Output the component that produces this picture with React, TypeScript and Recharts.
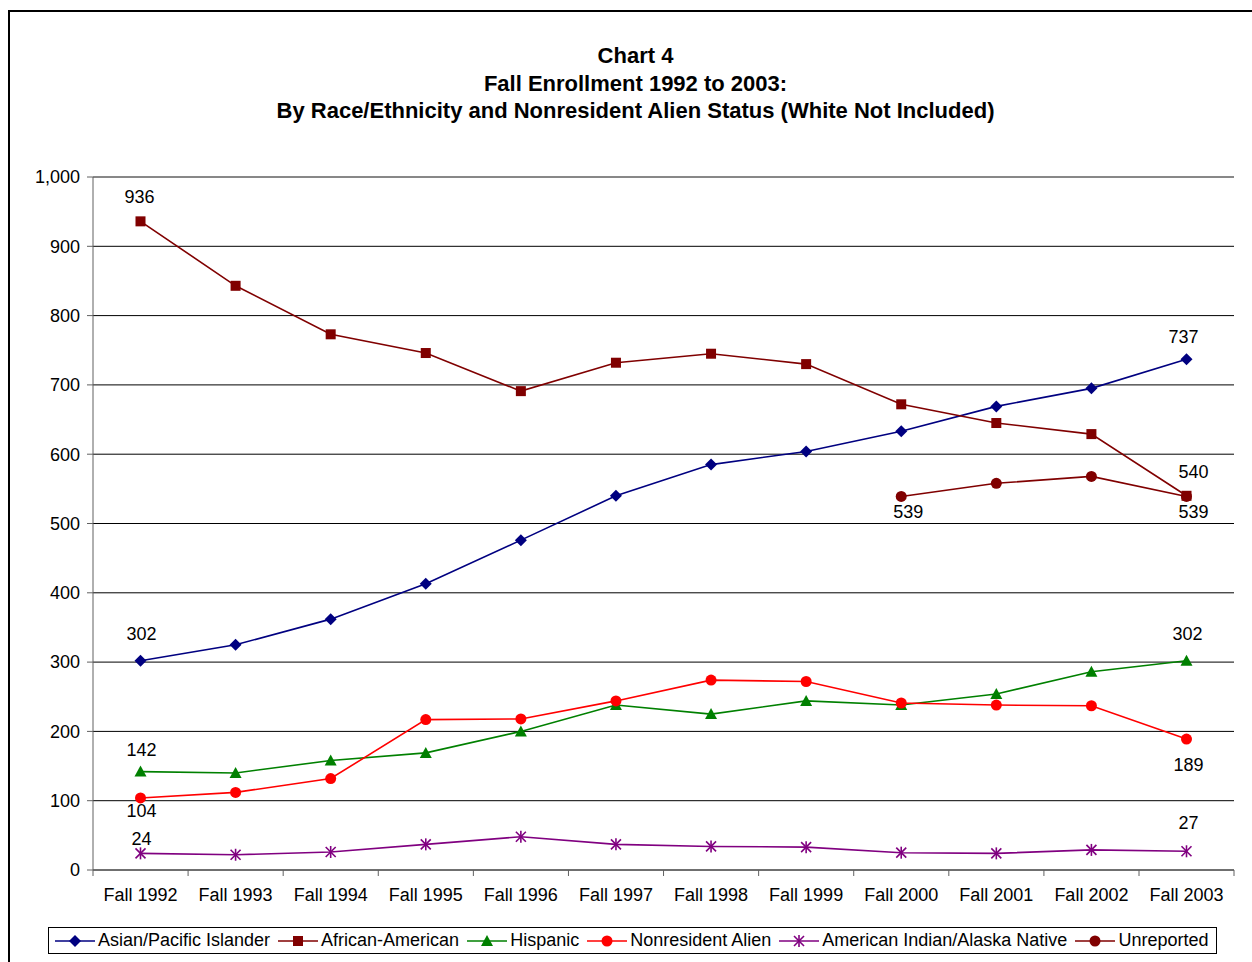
import React from "react"
import {
  LineChart,
  Line,
  XAxis,
  YAxis,
  CartesianGrid,
  LabelList,
  ReferenceLine,
} from "recharts"

// values (estimated where not labelled)
const YEARS = [
  "Fall 1992", "Fall 1993", "Fall 1994", "Fall 1995", "Fall 1996", "Fall 1997",
  "Fall 1998", "Fall 1999", "Fall 2000", "Fall 2001", "Fall 2002", "Fall 2003",
]
const ASIAN = [302, 325, 362, 413, 476, 540, 585, 604, 633, 669, 695, 737]
const AFRICAN = [936, 843, 773, 746, 691, 732, 745, 730, 672, 645, 629, 540]
const HISPANIC = [142, 140, 158, 169, 200, 238, 225, 244, 238, 254, 286, 302]
const NONRESIDENT = [104, 112, 132, 217, 218, 244, 274, 272, 241, 238, 237, 189]
const AM_INDIAN = [24, 22, 26, 37, 48, 37, 34, 33, 25, 24, 29, 27]
const UNREPORTED = [null, null, null, null, null, null, null, null, 539, 558, 568, 539]
const Y_TICKS = [0, 100, 200, 300, 400, 500, 600, 700, 800, 900, 1000]

const SERIES = [
  { key: "asian", name: "Asian/Pacific Islander", values: ASIAN, color: "#000080", marker: "diamond" },
  { key: "african", name: "African-American", values: AFRICAN, color: "#800000", marker: "square" },
  { key: "hispanic", name: "Hispanic", values: HISPANIC, color: "#008000", marker: "triangle" },
  { key: "nonres", name: "Nonresident Alien", values: NONRESIDENT, color: "#FF0000", marker: "circle" },
  { key: "amind", name: "American Indian/Alaska Native", values: AM_INDIAN, color: "#800080", marker: "star" },
  { key: "unrep", name: "Unreported", values: UNREPORTED, color: "#800000", marker: "circle" },
]
// unreported sits under the African-American square at Fall 2003
const DRAW_ORDER = ["unrep", "asian", "african", "hispanic", "nonres", "amind"]

// which points get a value label, and where the text sits relative to the point
const LABEL_OFFSETS: Record<string, Record<number, [number, number]>> = {
  asian: { 0: [1, -27], 11: [-3, -22] },
  african: { 0: [-1, -24], 11: [7, -24] },
  hispanic: { 0: [1, -22], 11: [1, -27] },
  nonres: { 0: [1, 13], 11: [2, 26] },
  amind: { 0: [1, -14], 11: [2, -28] },
  unrep: { 8: [7, 16], 11: [7, 16] },
}

const FONT = '"Liberation Sans", Arial, sans-serif'

const rows = YEARS.map((year, i) => {
  const r: any = { year }
  SERIES.forEach((s) => (r[s.key] = s.values[i]))
  return r
})

function Marker({ shape, color, cx, cy }: any) {
  if (cx == null || cy == null) return null
  switch (shape) {
    case "diamond":
      return <path d={`M${cx},${cy - 6}L${cx + 6},${cy}L${cx},${cy + 6}L${cx - 6},${cy}Z`} fill={color} />
    case "square":
      return <rect x={cx - 5} y={cy - 5} width={10} height={10} fill={color} />
    case "triangle":
      return <path d={`M${cx},${cy - 6}L${cx + 6},${cy + 5}L${cx - 6},${cy + 5}Z`} fill={color} />
    case "circle":
      return <circle cx={cx} cy={cy} r={5.5} fill={color} />
    case "star":
      return (
        <g stroke={color} strokeWidth={1.6}>
          <line x1={cx - 5} y1={cy - 5} x2={cx + 5} y2={cy + 5} />
          <line x1={cx - 5} y1={cy + 5} x2={cx + 5} y2={cy - 5} />
          <line x1={cx} y1={cy - 6} x2={cx} y2={cy + 6} />
        </g>
      )
  }
  return null
}

function XTick({ x, y, payload, index }: any) {
  const half = 47.5
  return (
    <g>
      <line x1={x - half} y1={y} x2={x - half} y2={y + 6} stroke="#606060" />
      {index === YEARS.length - 1 && (
        <line x1={x + half} y1={y} x2={x + half} y2={y + 6} stroke="#606060" />
      )}
      <text x={x} y={y + 25} textAnchor="middle" dominantBaseline="central" fontSize={18} fill="#000" fontFamily={FONT}>
        {payload.value}
      </text>
    </g>
  )
}

function makeLabel(key: string) {
  return (props: any) => {
    const { x, y, value, index } = props
    const off = LABEL_OFFSETS[key][index]
    if (!off || value == null) return null
    return (
      <text
        key={`${key}-${index}`}
        x={x + off[0]}
        y={y + off[1]}
        textAnchor="middle"
        dominantBaseline="central"
        fontSize={18}
        fill="#000"
        fontFamily={FONT}
      >
        {value}
      </text>
    )
  }
}

function LegendSwatch({ color, marker }: any) {
  return (
    <svg width={40} height={16} style={{ display: "block" }}>
      <line x1={0} y1={8} x2={40} y2={8} stroke={color} strokeWidth={1.6} />
      <Marker shape={marker} color={color} cx={20} cy={8} />
    </svg>
  )
}

export default function App() {
  const drawn = DRAW_ORDER.map((k) => SERIES.find((s) => s.key === k)!)
  return (
    <div style={{ position: "fixed", left: 0, top: 0, width: 1252, height: 962, overflow: "hidden", background: "#fff", fontFamily: FONT }}>
      <div style={{ position: "absolute", left: 8, top: 10, width: 1270, height: 980, border: "2px solid #000", boxSizing: "border-box" }} />
      <div style={{ position: "absolute", left: 9, top: 42, width: 1253, textAlign: "center", fontWeight: "bold", fontSize: 22, lineHeight: "27.5px", color: "#000" }}>
        <div>Chart 4</div>
        <div>Fall Enrollment 1992 to 2003:</div>
        <div>By Race/Ethnicity and Nonresident Alien Status (White Not Included)</div>
      </div>
      <div style={{ position: "absolute", left: 0, top: 0 }}>
        <LineChart width={1252} height={962} data={rows} margin={{ top: 177, right: 18, left: 0, bottom: 0 }}>
          <CartesianGrid vertical={false} stroke="#000" strokeOpacity={1} ticks={Y_TICKS} />
          <XAxis
            dataKey="year"
            height={92}
            padding={{ left: 47.5, right: 47.5 }}
            tickLine={false}
            tickSize={0}
            tickMargin={0}
            stroke="#606060"
            interval={0}
            tick={<XTick />}
          />
          <YAxis
            domain={[0, 1000]}
            ticks={Y_TICKS}
            width={93}
            tickSize={6}
            tickMargin={7}
            stroke="#606060"
            tick={{ fill: "#000", fontSize: 18, fontFamily: FONT }}
            tickFormatter={(v: number) => v.toLocaleString("en-US")}
            interval={0}
          />
          <YAxis yAxisId="right" orientation="right" domain={[0, 1000]} width={0} tick={false} tickLine={false} stroke="#909090" />
          <ReferenceLine y={1000} stroke="#909090" />
          {drawn.map((s) => (
            <Line
              key={s.key}
              dataKey={s.key}
              name={s.name}
              stroke={s.color}
              strokeWidth={1.6}
              isAnimationActive={false}
              connectNulls={false}
              dot={(p: any) => <Marker key={`${s.key}-d${p.index}`} shape={s.marker} color={s.color} cx={p.cx} cy={p.value == null ? null : p.cy} />}
              activeDot={false}
            >
              <LabelList dataKey={s.key} content={makeLabel(s.key)} />
            </Line>
          ))}
        </LineChart>
      </div>
      <div
        style={{
          position: "absolute",
          left: 48,
          top: 927,
          width: 1169,
          height: 27,
          border: "1px solid #000",
          boxSizing: "border-box",
          display: "flex",
          alignItems: "center",
          paddingLeft: 6,
          gap: 8,
          fontSize: 18,
          whiteSpace: "nowrap",
        }}
      >
        {SERIES.map((s) => (
          <div key={s.key} style={{ display: "flex", alignItems: "center", gap: 3 }}>
            <LegendSwatch color={s.color} marker={s.marker} />
            <span>{s.name}</span>
          </div>
        ))}
      </div>
    </div>
  )
}
